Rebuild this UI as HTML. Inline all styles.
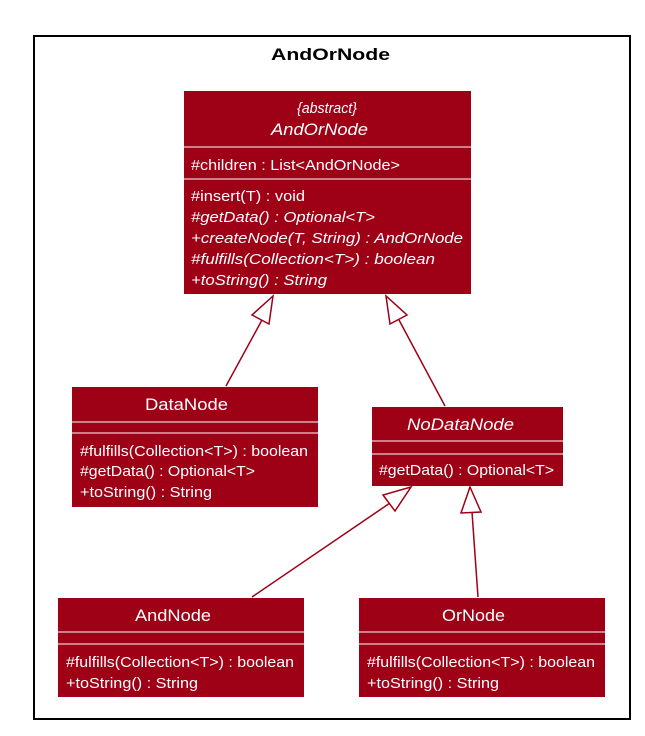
<!DOCTYPE html>
<html><head><meta charset="utf-8"><style>
html,body{margin:0;padding:0;background:#fff;width:645px;height:736px;overflow:hidden}
svg text{font-family:"Liberation Sans",sans-serif;fill:#fff}
</style></head><body>
<svg width="645" height="736" viewBox="0 0 645 736" xmlns="http://www.w3.org/2000/svg">
<rect x="34" y="36" width="596" height="683" fill="#fff" stroke="#000" stroke-width="2"/>
<text x="271" y="60" font-size="17" font-weight="bold" style="fill:#000" textLength="119" lengthAdjust="spacingAndGlyphs">AndOrNode</text>

<g stroke="#9E0016" stroke-width="1.5" fill="none">
<line x1="226" y1="386" x2="262" y2="320"/>
<line x1="445" y1="406" x2="399" y2="320"/>
<line x1="252" y1="597" x2="390" y2="503"/>
<line x1="478" y1="597" x2="472" y2="512"/>
</g>
<g stroke="#9E0016" stroke-width="1.5" fill="#fff">
<polygon points="273,296 252,315 269,324"/>
<polygon points="386,296 390,324 407,315"/>
<polygon points="411,487 383,495 395,511"/>
<polygon points="470,487 461,513 481,512"/>
</g>

<!-- AndOrNode -->
<rect x="184" y="91" width="287" height="203" fill="#9E0016"/>
<line x1="184" y1="147" x2="471" y2="147" stroke="#fff"/>
<line x1="184" y1="179" x2="471" y2="179" stroke="#fff"/>
<text x="297" y="113" font-size="15" font-style="italic" textLength="60" lengthAdjust="spacingAndGlyphs">{abstract}</text>
<text x="271" y="135" font-size="17" font-style="italic" textLength="97" lengthAdjust="spacingAndGlyphs">AndOrNode</text>
<text x="191" y="170" font-size="15" textLength="209" lengthAdjust="spacingAndGlyphs">#children : List&lt;AndOrNode&gt;</text>
<text x="191" y="201" font-size="15" textLength="114" lengthAdjust="spacingAndGlyphs">#insert(T) : void</text>
<text x="191" y="222" font-size="15" font-style="italic" textLength="184" lengthAdjust="spacingAndGlyphs">#getData() : Optional&lt;T&gt;</text>
<text x="191" y="243" font-size="15" font-style="italic" textLength="272" lengthAdjust="spacingAndGlyphs">+createNode(T, String) : AndOrNode</text>
<text x="191" y="264" font-size="15" font-style="italic" textLength="244" lengthAdjust="spacingAndGlyphs">#fulfills(Collection&lt;T&gt;) : boolean</text>
<text x="191" y="285" font-size="15" font-style="italic" textLength="136" lengthAdjust="spacingAndGlyphs">+toString() : String</text>

<!-- DataNode -->
<rect x="72" y="387" width="246" height="120" fill="#9E0016"/>
<line x1="72" y1="422" x2="318" y2="422" stroke="#fff"/>
<line x1="72" y1="433" x2="318" y2="433" stroke="#fff"/>
<text x="145" y="410" font-size="17" textLength="83" lengthAdjust="spacingAndGlyphs">DataNode</text>
<text x="80" y="456" font-size="15" textLength="228" lengthAdjust="spacingAndGlyphs">#fulfills(Collection&lt;T&gt;) : boolean</text>
<text x="80" y="476" font-size="15" textLength="175" lengthAdjust="spacingAndGlyphs">#getData() : Optional&lt;T&gt;</text>
<text x="80" y="497" font-size="15" textLength="132" lengthAdjust="spacingAndGlyphs">+toString() : String</text>

<!-- NoDataNode -->
<rect x="372" y="407" width="191" height="79" fill="#9E0016"/>
<line x1="372" y1="441" x2="563" y2="441" stroke="#fff"/>
<line x1="372" y1="454" x2="563" y2="454" stroke="#fff"/>
<text x="407" y="430" font-size="17" font-style="italic" textLength="107" lengthAdjust="spacingAndGlyphs">NoDataNode</text>
<text x="379" y="475" font-size="15" textLength="175" lengthAdjust="spacingAndGlyphs">#getData() : Optional&lt;T&gt;</text>

<!-- AndNode -->
<rect x="58" y="598" width="246" height="99" fill="#9E0016"/>
<line x1="58" y1="632" x2="304" y2="632" stroke="#fff"/>
<line x1="58" y1="644" x2="304" y2="644" stroke="#fff"/>
<text x="135" y="621" font-size="17" textLength="76" lengthAdjust="spacingAndGlyphs">AndNode</text>
<text x="66" y="667" font-size="15" textLength="228" lengthAdjust="spacingAndGlyphs">#fulfills(Collection&lt;T&gt;) : boolean</text>
<text x="66" y="688" font-size="15" textLength="132" lengthAdjust="spacingAndGlyphs">+toString() : String</text>

<!-- OrNode -->
<rect x="359" y="598" width="246" height="99" fill="#9E0016"/>
<line x1="359" y1="632" x2="605" y2="632" stroke="#fff"/>
<line x1="359" y1="644" x2="605" y2="644" stroke="#fff"/>
<text x="442" y="621" font-size="17" textLength="63" lengthAdjust="spacingAndGlyphs">OrNode</text>
<text x="367" y="667" font-size="15" textLength="228" lengthAdjust="spacingAndGlyphs">#fulfills(Collection&lt;T&gt;) : boolean</text>
<text x="367" y="688" font-size="15" textLength="132" lengthAdjust="spacingAndGlyphs">+toString() : String</text>
</svg>
</body></html>
